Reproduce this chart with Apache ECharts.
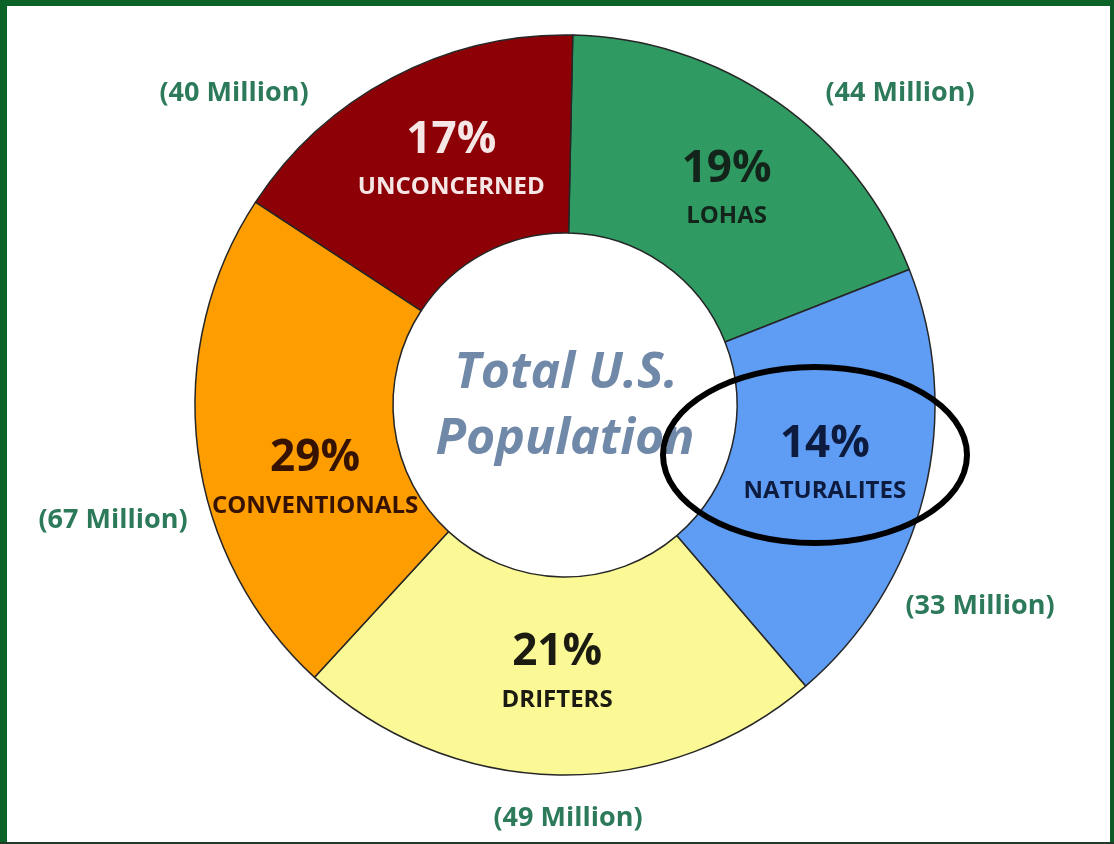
<!DOCTYPE html>
<html>
<head>
<meta charset="utf-8">
<script src="https://cdn.jsdelivr.net/npm/echarts@6/dist/echarts.min.js"></script>
<style>
html,body{margin:0;padding:0;background:#ffffff;}
#chart{width:1114px;height:844px;}
</style>
</head>
<body>
<div id="chart"></div>
<script>
// ---- data ----
var segments = ['LOHAS', 'NATURALITES', 'DRIFTERS', 'CONVENTIONALS', 'UNCONCERNED'];
var percentLabels = [19, 14, 21, 29, 17];          // printed percentages
var millions = [44, 33, 49, 67, 40];               // printed population (millions)
var sliceShares = [18.7, 19.7, 23.1, 22.4, 16.1];  // drawn slice sizes (share of ring)
var centerLines = ['Total U.S.', 'Population'];

// ---- styling ----
var sliceColors = ['#2f9a62', '#5f9df5', '#fbf996', '#fd9d00', '#8d0006'];
var textColors = ['#13241a', '#0d1b3e', '#1b1b12', '#361200', '#f6e6e6'];
var labelNudge = [[5, 9], [-6, -7], [-3, -6], [22, 40], [14, -2]];
var millionPos = [[900, 93], [980, 606], [568, 818], [113, 520], [234, 93]];
var CX = 565, CY = 405;

var chart = echarts.init(document.getElementById('chart'));

var data = segments.map(function (name, i) {
  return {
    name: name,
    value: sliceShares[i],
    itemStyle: { color: sliceColors[i] },
    label: {
      formatter: '{p|' + percentLabels[i] + '%}\n{n|' + name + '}',
      rich: {
        p: { fontSize: 44, fontWeight: 'bold', fontFamily: 'Open Sans', color: textColors[i], lineHeight: 54, align: 'center' },
        n: { fontSize: 24, fontWeight: 'bold', fontFamily: 'Open Sans', color: textColors[i], lineHeight: 40, align: 'center' }
      }
    }
  };
});

var graphics = [];
// frame
graphics.push({ type: 'rect', shape: { x: 0, y: 0, width: 7, height: 844 }, style: { fill: '#0b6327' }, silent: true });
graphics.push({ type: 'rect', shape: { x: 0, y: 0, width: 1114, height: 6 }, style: { fill: '#0b6327' }, silent: true });
graphics.push({ type: 'rect', shape: { x: 1110, y: 0, width: 4, height: 844 }, style: { fill: '#0b5a25' }, silent: true });
graphics.push({ type: 'rect', shape: { x: 0, y: 842, width: 1114, height: 2 }, style: { fill: '#1f3a28' }, silent: true });
// center text
graphics.push({ type: 'text', x: 566, y: 374, z: 10, style: { text: centerLines[0], fontSize: 50, fontWeight: 'bold', fontStyle: 'italic', fontFamily: 'Open Sans', fill: '#7189a8', textAlign: 'center', textVerticalAlign: 'middle' }, silent: true });
graphics.push({ type: 'text', x: 565, y: 440, z: 10, style: { text: centerLines[1], fontSize: 50, fontWeight: 'bold', fontStyle: 'italic', fontFamily: 'Open Sans', fill: '#7189a8', textAlign: 'center', textVerticalAlign: 'middle' }, silent: true });
// million labels
millions.forEach(function (m, i) {
  graphics.push({ type: 'text', x: millionPos[i][0], y: millionPos[i][1], z: 10, style: { text: '(' + m + ' Million)', fontSize: 27, fontWeight: 'bold', fontFamily: 'Open Sans', fill: '#2c7a5a', textAlign: 'center', textVerticalAlign: 'middle' }, silent: true });
});
// annotation ellipse
graphics.push({ type: 'ellipse', z: 20, shape: { cx: 815, cy: 455, rx: 152, ry: 88 }, style: { fill: 'none', stroke: '#000000', lineWidth: 6 }, silent: true });

chart.setOption({
  backgroundColor: '#ffffff',
  animation: false,
  series: [{
    type: 'pie',
    center: [CX, CY],
    radius: [172, 370],
    startAngle: 88.8,
    clockwise: true,
    sort: null,
    silent: true,
    itemStyle: { borderColor: '#262626', borderWidth: 1.5 },
    label: { show: true, position: 'inside' },
    labelLine: { show: false },
    labelLayout: function (params) {
      var d = labelNudge[params.dataIndex];
      return { dx: d[0], dy: d[1] };
    },
    data: data
  }],
  graphic: graphics
});
</script>
</body>
</html>
